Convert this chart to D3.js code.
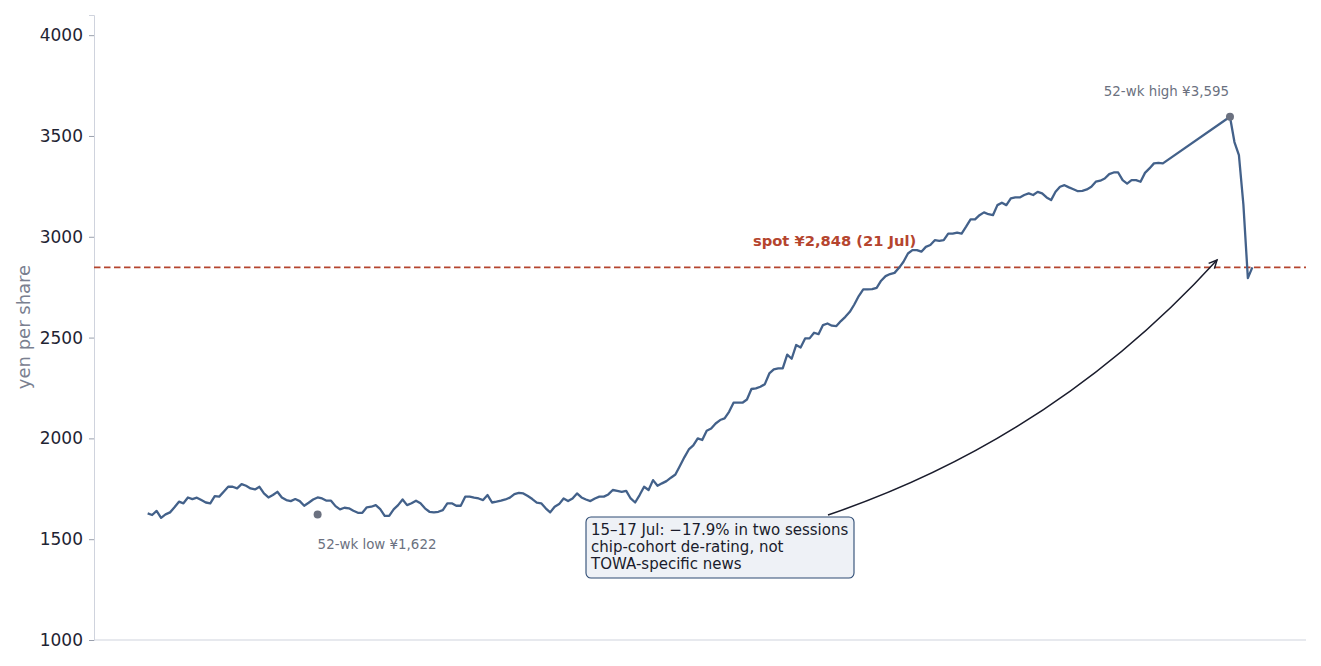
<!DOCTYPE html>
<html>
<head>
<meta charset="utf-8">
<script src="https://cdn.jsdelivr.net/npm/d3@7"></script>
<style>
  html, body { margin: 0; padding: 0; background: #fff; }
  svg { display: block; font-family: "DejaVu Sans", sans-serif; }
</style>
</head>
<body>
<div id="chart"></div>
<script>
// Daily closes, session index 0..227 (before the data gap)
const closesBefore = [
  1628, 1620, 1640, 1606, 1623, 1633, 1658, 1686, 1678, 1707, 1699, 1706, 1694, 1682, 1678,
  1714, 1711, 1735, 1760, 1760, 1752, 1773, 1765, 1752, 1747, 1760, 1727, 1707, 1719, 1735,
  1707, 1694, 1689, 1699, 1689, 1666, 1681, 1697, 1707, 1702, 1691, 1691, 1664, 1648, 1656,
  1653, 1641, 1631, 1631, 1658, 1661, 1669, 1649, 1616, 1616,
  1648, 1669, 1697, 1669, 1678, 1691, 1678, 1653, 1636, 1633, 1636, 1644, 1678, 1678, 1666,
  1666, 1711, 1711, 1706, 1702, 1694, 1719, 1682, 1686, 1691, 1697, 1706, 1724, 1730, 1727,
  1714, 1699, 1681, 1678, 1653, 1633, 1661, 1674, 1702, 1689, 1702, 1727, 1707, 1697, 1689,
  1702, 1711, 1711, 1722, 1744, 1740, 1735, 1740, 1702, 1682, 1719, 1760,
  1744, 1793, 1765, 1777, 1788, 1805, 1821, 1863, 1906, 1945, 1965, 2000, 1992, 2038, 2049,
  2074, 2091, 2099, 2132, 2177, 2177, 2177, 2193, 2245, 2248, 2256, 2269, 2322, 2342, 2347, 2347,
  2415, 2395, 2463, 2451, 2496, 2496, 2524, 2517, 2562, 2570, 2559, 2557, 2582, 2603, 2628,
  2664, 2706, 2739, 2739, 2740, 2747, 2782, 2805, 2815, 2821, 2846, 2876, 2917, 2934, 2934,
  2926, 2950, 2959, 2983, 2980, 2983, 3016, 3016, 3021, 3016, 3050, 3086, 3086, 3107, 3121,
  3112, 3107, 3157, 3169, 3157, 3190, 3195, 3195,
  3207, 3215, 3207, 3223, 3215, 3195, 3182, 3223, 3248, 3256, 3245, 3236, 3226, 3228, 3235,
  3248, 3273, 3278, 3289, 3311, 3319, 3319, 3281, 3264, 3281, 3281, 3273, 3317, 3339, 3364,
  3367, 3364
];
// Closes after the gap, starting at session 242 (peak, then the 15-17 Jul slide, 21 Jul spot)
const afterGapStart = 242;
const closesAfter = [3595, 3470, 3405, 3160, 2795, 2848];

const yTicks = [1000, 1500, 2000, 2500, 3000, 3500, 4000];
const spot = 2848;
const low = { idx: 38, value: 1622, label: '52-wk low ¥1,622' };
const high = { idx: 242, value: 3595, label: '52-wk high ¥3,595' };
const spotLabel = 'spot ¥2,848 (21 Jul)';
const noteLines = ['15–17 Jul: −17.9% in two sessions', 'chip-cohort de-rating, not', 'TOWA-specific news'];

const series = closesBefore.map((v, i) => ({ i, v }))
  .concat(closesAfter.map((v, k) => ({ i: afterGapStart + k, v })));

const W = 1321, H = 666;
const m = { left: 94, right: 15, top: 15, bottom: 26 };

const svg = d3.select('#chart').append('svg')
  .attr('width', W).attr('height', H);

const x = d3.scaleLinear().domain([-12, 259]).range([m.left, W - m.right]);
const y = d3.scaleLinear().domain([1000, 4100]).range([H - m.bottom, m.top]);

// axes
const yAxis = svg.append('g')
  .attr('transform', `translate(${m.left},0)`)
  .call(d3.axisLeft(y).tickValues(yTicks).tickSize(5).tickPadding(6).tickFormat(d3.format('d')));
yAxis.select('.domain').attr('stroke', '#cfd3dd');
yAxis.selectAll('.tick line').attr('stroke', '#9aa0ad');
yAxis.selectAll('.tick text')
  .attr('fill', '#1f2433').attr('font-size', 17)
  .attr('font-family', '"DejaVu Sans", sans-serif');

svg.append('line')
  .attr('x1', m.left).attr('x2', W - m.right)
  .attr('y1', H - m.bottom).attr('y2', H - m.bottom)
  .attr('stroke', '#cfd3dd');

svg.append('text')
  .attr('transform', 'translate(23,327) rotate(-90)')
  .attr('text-anchor', 'middle')
  .attr('dominant-baseline', 'central')
  .attr('fill', '#7a8090').attr('font-size', 18)
  .text('yen per share');

// spot line
svg.append('line')
  .attr('x1', m.left).attr('x2', W - m.right)
  .attr('y1', y(spot)).attr('y2', y(spot))
  .attr('stroke', '#b5452e').attr('stroke-width', 1.8)
  .attr('stroke-dasharray', '6.5,3.5');

svg.append('text')
  .attr('x', 753).attr('y', y(spot) - 21)
  .attr('fill', '#b5452e').attr('font-size', 14.7).attr('font-weight', 'bold')
  .text(spotLabel);

// price line
const line = d3.line().x(d => x(d.i)).y(d => y(d.v));
svg.append('path')
  .datum(series)
  .attr('d', line)
  .attr('fill', 'none')
  .attr('stroke', '#43618a')
  .attr('stroke-width', 2.3)
  .attr('stroke-linejoin', 'round');

// extremes
[low, high].forEach(p => {
  svg.append('circle')
    .attr('cx', x(p.idx)).attr('cy', y(p.value)).attr('r', 4)
    .attr('fill', '#6b7180');
});
svg.append('text')
  .attr('x', x(low.idx)).attr('y', y(low.value) + 34)
  .attr('fill', '#6b7180').attr('font-size', 13.4)
  .text(low.label);
svg.append('text')
  .attr('x', x(high.idx) - 1).attr('y', y(high.value) - 21)
  .attr('text-anchor', 'end')
  .attr('fill', '#6b7180').attr('font-size', 13.4)
  .text(high.label);

// annotation arrow (quadratic arc from box to spot line near the end)
const p0 = [828, 515], p2 = [1217, 260], c = [1055, 438];
const arrow = d3.path();
arrow.moveTo(p0[0], p0[1]);
arrow.quadraticCurveTo(c[0], c[1], p2[0], p2[1]);
svg.append('path')
  .attr('d', arrow.toString())
  .attr('fill', 'none').attr('stroke', '#1a1c2c').attr('stroke-width', 1.5);
const ang = Math.atan2(p2[1] - c[1], p2[0] - c[0]);
const headLen = 9, spread = 0.45;
svg.append('path')
  .attr('d', `M${p2[0] - headLen * Math.cos(ang - spread)},${p2[1] - headLen * Math.sin(ang - spread)}` +
    `L${p2[0]},${p2[1]}` +
    `L${p2[0] - headLen * Math.cos(ang + spread)},${p2[1] - headLen * Math.sin(ang + spread)}`)
  .attr('fill', 'none').attr('stroke', '#1a1c2c').attr('stroke-width', 1.5)
  .attr('stroke-linejoin', 'miter');

// annotation box
const box = svg.append('g');
box.append('rect')
  .attr('x', 586).attr('y', 517).attr('width', 268).attr('height', 61)
  .attr('rx', 5).attr('ry', 5)
  .attr('fill', '#eef1f6').attr('stroke', '#2c4a73').attr('stroke-width', 1.1);
box.selectAll('text')
  .data(noteLines)
  .join('text')
  .attr('x', 591)
  .attr('y', (d, i) => 535 + i * 17)
  .attr('fill', '#1a1c2c').attr('font-size', 15)
  .text(d => d);
</script>
</body>
</html>
